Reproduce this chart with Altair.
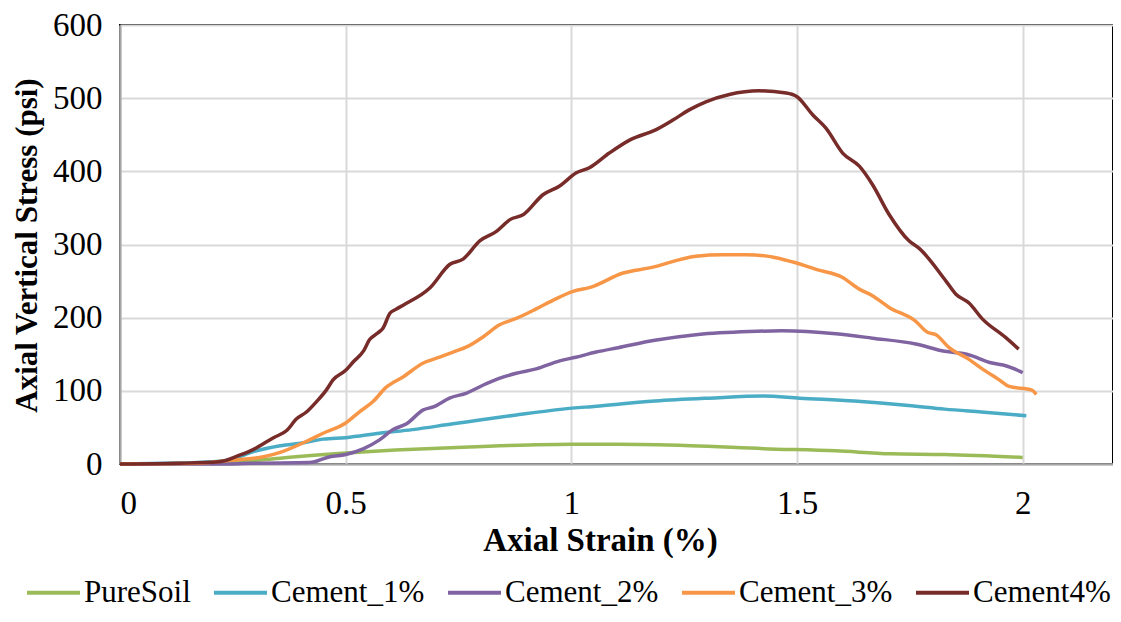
import altair as alt
import pandas as pd

series_names = ["PureSoil", "Cement_1%", "Cement_2%", "Cement_3%", "Cement4%"]
series_colors = ["#9BBB59", "#4BACC6", "#8064A2", "#F79646", "#772C2A"]

puresoil_x = [0, 0.1, 0.2, 0.244, 0.3, 0.355, 0.43, 0.5, 0.61, 0.76, 0.907, 1.0, 1.104, 1.265, 1.426, 1.586, 1.707, 1.827, 2.0]
puresoil_y = [0, 0.5, 2, 3, 5, 8, 12, 15, 19, 23, 26, 27, 27, 25, 21, 18, 14, 13, 9]

cement1_x = [0, 0.1, 0.17, 0.244, 0.296, 0.355, 0.407, 0.45, 0.5, 0.575, 0.648, 0.738, 0.797, 0.878, 0.981, 1.055, 1.185, 1.305, 1.426, 1.506, 1.627, 1.747, 1.827, 1.908, 2.008]
cement1_y = [0, 1, 2, 6, 17, 25, 29, 34, 36, 42, 47, 55, 60, 67, 75, 79, 86, 90, 93, 90, 86, 80, 75, 71, 66]

cement2_x = [0, 0.1, 0.244, 0.29, 0.42, 0.465, 0.5, 0.54, 0.575, 0.605, 0.635, 0.672, 0.694, 0.73, 0.768, 0.805, 0.84, 0.878, 0.922, 0.974, 1.01, 1.055, 1.104, 1.185, 1.281, 1.394, 1.466, 1.586, 1.667, 1.763, 1.827, 1.876, 1.932, 1.964, 2.0]
cement2_y = [0, 0, 0, 1, 2, 10, 13, 21, 33, 47, 55, 74, 78, 90, 97, 108, 117, 124, 130, 141, 146, 153, 159, 169, 177, 181, 182, 178, 172, 164, 154, 150, 138, 134, 125]

cement3_x = [0, 0.1, 0.17, 0.244, 0.318, 0.36, 0.42, 0.45, 0.5, 0.53, 0.56, 0.59, 0.627, 0.672, 0.708, 0.738, 0.768, 0.805, 0.84, 0.878, 0.922, 0.96, 1.004, 1.04, 1.115, 1.173, 1.276, 1.336, 1.387, 1.453, 1.497, 1.542, 1.601, 1.638, 1.667, 1.704, 1.763, 1.789, 1.807, 1.837, 1.881, 1.908, 1.948, 1.97, 2.02, 2.03]
cement3_y = [0, 0.5, 1, 5, 10, 17, 33, 42, 56, 71, 85, 105, 119, 138, 146, 153, 160, 174, 190, 199, 212, 224, 236, 241, 261, 268, 284, 286, 286, 282, 275, 266, 255, 239, 230, 214, 195, 180, 177, 159, 143, 131, 115, 106, 101, 95]

cement4_x = [0, 0.133, 0.22, 0.265, 0.296, 0.34, 0.37, 0.39, 0.413, 0.435, 0.457, 0.472, 0.5, 0.516, 0.54, 0.553, 0.571, 0.583, 0.598, 0.61, 0.63, 0.687, 0.731, 0.76, 0.797, 0.834, 0.864, 0.894, 0.937, 0.974, 1.011, 1.04, 1.084, 1.13, 1.188, 1.225, 1.261, 1.298, 1.35, 1.416, 1.476, 1.5, 1.535, 1.564, 1.601, 1.638, 1.667, 1.704, 1.748, 1.77, 1.83, 1.852, 1.881, 1.911, 1.962, 1.991]
cement4_y = [0, 1, 3, 12, 20, 36, 46, 61, 71, 85, 101, 115, 128, 139, 155, 170, 179, 186, 206, 211, 218, 241, 273, 280, 305, 318, 334, 341, 368, 380, 398, 405, 425, 443, 457, 470, 484, 495, 505, 510, 507, 502, 477, 459, 425, 407, 382, 341, 305, 295, 250, 232, 220, 198, 173, 157]

x_ticks = [0, 0.5, 1, 1.5, 2]
y_ticks = [0, 100, 200, 300, 400, 500, 600]

all_x = [puresoil_x, cement1_x, cement2_x, cement3_x, cement4_x]
all_y = [puresoil_y, cement1_y, cement2_y, cement3_y, cement4_y]

rows = []
for name, xs, ys in zip(series_names, all_x, all_y):
    for i, (xv, yv) in enumerate(zip(xs, ys)):
        rows.append({"series": name, "strain": xv, "stress": yv, "order": i})
df = pd.DataFrame(rows)

FONT = "Liberation Serif"

chart = alt.Chart(df).mark_line(strokeWidth=3.5, interpolate="monotone").encode(
    x=alt.X("strain:Q",
            scale=alt.Scale(domain=[0, 2.2], nice=False),
            axis=alt.Axis(title="Axial Strain (%)", values=x_ticks, format="~g",
                          titleX=480, titleY=86, titleBaseline="alphabetic", titleAlign="center")),
    y=alt.Y("stress:Q",
            scale=alt.Scale(domain=[0, 600], nice=False),
            axis=alt.Axis(title="Axial Vertical Stress (psi)", values=y_ticks,
                          titleX=-84, titleY=220, titleAngle=-90, titleFontSize=31,
                          titleBaseline="alphabetic", titleAlign="center")),
    color=alt.Color("series:N",
                    scale=alt.Scale(domain=series_names, range=series_colors),
                    sort=series_names,
                    legend=alt.Legend(title=None, orient="none", legendX=-95, legendY=539,
                                      direction="horizontal", columns=5,
                                      symbolType="stroke", symbolSize=2809, symbolStrokeWidth=4,
                                      labelFont=FONT, labelFontSize=31, labelColor="black",
                                      columnPadding=15, labelOffset=2, labelLimit=400)),
    order="order:Q",
).properties(
    width=993, height=439,
    autosize=alt.AutoSizeParams(type="none"),
    padding={"left": 112, "top": 17, "right": 0, "bottom": 146},
).configure_view(
    stroke="black", strokeWidth=2
).configure_legend(
    labelFont=FONT
).configure_axis(
    grid=True, gridColor="#D9D9D9", gridWidth=2,
    domainColor="#A6A6A6", domainWidth=2,
    ticks=False, labelFont=FONT, labelFontSize=33, labelColor="black",
    titleFont=FONT, titleFontSize=33, titleFontWeight="bold", titleColor="black",
    labelPadding=18, zindex=1,
).configure_axisX(labelPadding=23)

chart.save("out.html", embed_options={"renderer": "svg", "actions": False})
